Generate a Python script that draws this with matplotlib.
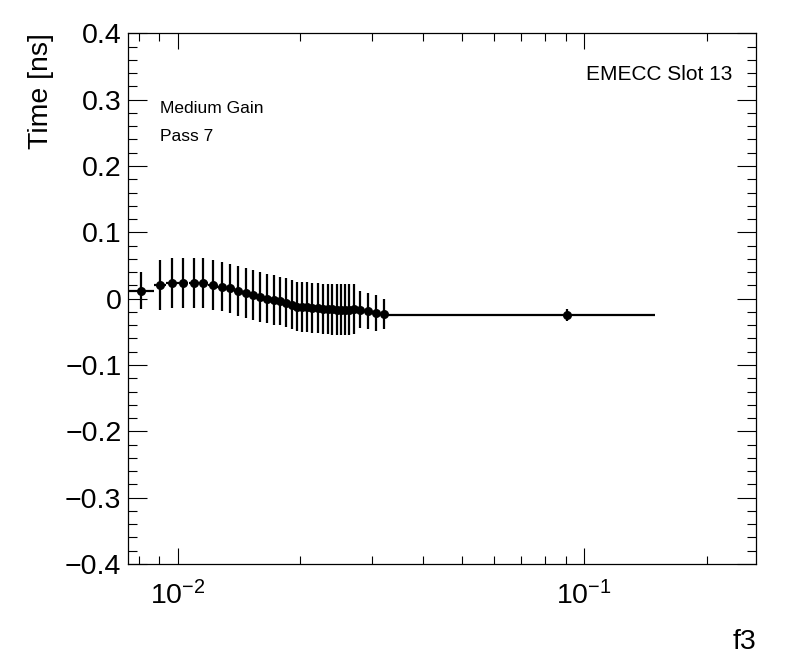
"""Timing profile vs f3 for EMECC slot 13 (ROOT-style look)."""

import matplotlib
import matplotlib.pyplot as plt
from matplotlib.ticker import FuncFormatter, LogLocator, MultipleLocator, NullFormatter

matplotlib.use("Agg")  # Non-interactive backend

plt.rcParams["font.family"] = ["Liberation Sans", "DejaVu Sans"]
plt.rcParams["mathtext.fontset"] = "custom"
plt.rcParams["mathtext.rm"] = "Liberation Sans"
plt.rcParams["mathtext.it"] = "Liberation Sans"
plt.rcParams["mathtext.bf"] = "Liberation Sans"

# bin centres, half widths, mean time and its error
f3 = [0.00811, 0.00903, 0.00965, 0.01029, 0.01095, 0.01154, 0.01219, 0.01281,
      0.01345, 0.01408, 0.01468, 0.01530, 0.01592, 0.01656, 0.01720, 0.01780,
      0.01841, 0.01905, 0.01963, 0.02023, 0.02081, 0.02141, 0.02207, 0.02271,
      0.02336, 0.02398, 0.02459, 0.02519, 0.02577, 0.02636, 0.02707, 0.02805,
      0.02931, 0.03067, 0.03214, 0.09082]
f3_err = [0.00063, 0.00029, 0.00031, 0.00032, 0.00031, 0.00031, 0.00032, 0.00031,
          0.00032, 0.00031, 0.00031, 0.00031, 0.00032, 0.00032, 0.00031, 0.00030,
          0.00031, 0.00030, 0.00030, 0.00030, 0.00030, 0.00031, 0.00032, 0.00032,
          0.00032, 0.00031, 0.00030, 0.00030, 0.00029, 0.00033, 0.00042, 0.00056,
          0.00065, 0.00071, 0.00060, 0.05820]
time_ns = [0.0120, 0.0205, 0.0235, 0.0235, 0.0235, 0.0235, 0.0205, 0.0180,
           0.0155, 0.0120, 0.0084, 0.0054, 0.0024, 0.0002, -0.0021, -0.0036,
           -0.0060, -0.0090, -0.0119, -0.0123, -0.0128, -0.0138, -0.0143, -0.0152,
           -0.0156, -0.0160, -0.0164, -0.0164, -0.0164, -0.0164, -0.0156, -0.0164,
           -0.0188, -0.0214, -0.0231, -0.0247]
time_err = [0.0276, 0.0376, 0.0376, 0.0376, 0.0376, 0.0376, 0.0376, 0.0366,
            0.0364, 0.0376, 0.0376, 0.0373, 0.0376, 0.0368, 0.0371, 0.0366,
            0.0371, 0.0371, 0.0368, 0.0373, 0.0379, 0.0373, 0.0379, 0.0377,
            0.0380, 0.0385, 0.0388, 0.0388, 0.0388, 0.0388, 0.0380, 0.0274,
            0.0275, 0.0274, 0.0230, 0.0088]

x_range = (0.00752, 0.2646)
y_range = (-0.4, 0.4)


def y_label(value, _pos):
    if abs(value) < 1e-9:
        return "0"
    return f"{value:.1f}".replace("-", "\u2212")


fig = plt.figure(figsize=(7.96, 6.72), dpi=100)
ax = fig.add_axes([0.1604, 0.1607, 0.7893, 0.7897])

ax.errorbar(
    f3, time_ns, xerr=f3_err, yerr=time_err,
    fmt="o", color="black", ms=6.5, mew=0, elinewidth=1.6, capsize=0,
)

ax.set_xscale("log")
ax.set_xlim(*x_range)
ax.set_ylim(*y_range)

ax.xaxis.set_major_locator(LogLocator(base=10, numticks=10))
ax.xaxis.set_minor_locator(LogLocator(base=10, subs=range(2, 10), numticks=20))
ax.xaxis.set_minor_formatter(NullFormatter())
ax.yaxis.set_major_locator(MultipleLocator(0.1))
ax.yaxis.set_minor_locator(MultipleLocator(0.02))
ax.yaxis.set_major_formatter(FuncFormatter(y_label))

ax.tick_params(which="both", direction="in", top=True, right=True, width=0.8, colors="black")
ax.tick_params(axis="x", which="major", length=11.5, labelsize=20.5, pad=12)
ax.tick_params(axis="x", which="minor", length=5.8)
ax.tick_params(axis="y", which="major", length=13.7, labelsize=20.5, pad=4.5)
ax.tick_params(axis="y", which="minor", length=6.8)
for spine in ax.spines.values():
    spine.set_linewidth(0.9)

ax.set_ylabel("Time [ns]", fontsize=20.5, loc="top", labelpad=8)
ax.set_xlabel("f3", fontsize=20.5, loc="right", labelpad=14)

ax.text(0.052, 0.858, "Medium Gain", transform=ax.transAxes, fontsize=12.5, va="center")
ax.text(0.052, 0.806, "Pass 7", transform=ax.transAxes, fontsize=12.5, va="center")
ax.text(0.962, 0.922, "EMECC Slot 13", transform=ax.transAxes, fontsize=15,
        ha="right", va="center")

fig.savefig("out.png", dpi=100)
plt.close(fig)
